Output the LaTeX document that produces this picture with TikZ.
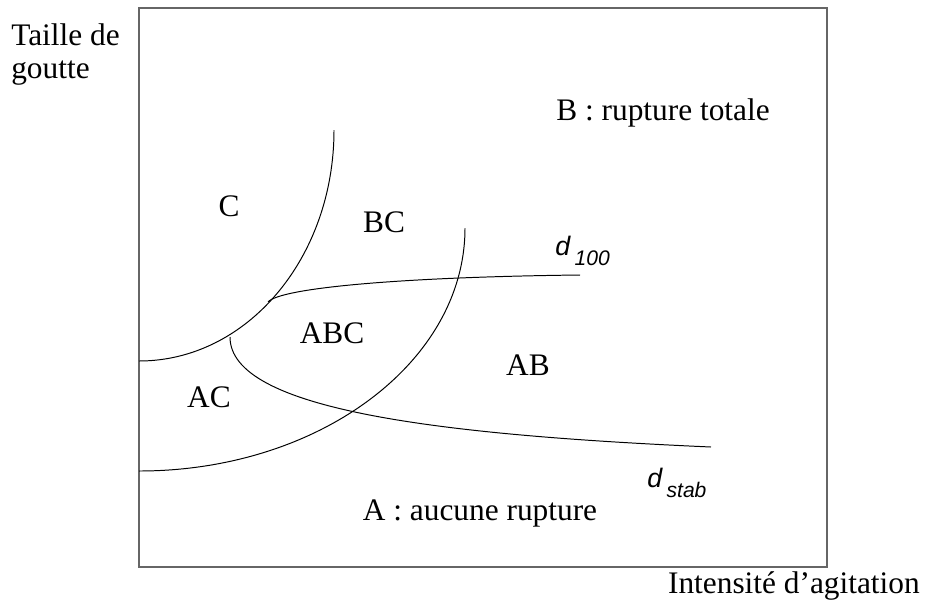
\documentclass[tikz,border=0pt]{standalone}
\usepackage{fontspec}
\usepackage{tikz}
\usepackage{xcolor}
\setmainfont{Liberation Serif}
\newfontfamily\dfont{Liberation Sans}

\begin{document}
\begin{tikzpicture}[x=0.025cm, y=-0.025cm,
  lbl/.style={font=\fontsize{22.3}{26}\selectfont, inner sep=0pt, anchor=base},
  dlab/.style={font=\dfont\itshape\fontsize{19}{20}\selectfont, inner sep=0pt, anchor=base west},
  curve/.style={black, line width=0.7pt}]

\newcommand{\dsub}[1]{\raisebox{-0.25cm}{\fontsize{15}{16}\selectfont #1}}

\useasboundingbox (0,0) rectangle (928,607);

% ===== Frame =====

\draw[black!60, line width=0.9pt] (139,8) rectangle (827,567);

% ===== Axis labels =====

\node[lbl, anchor=base west] (ylab) at (11,45) {Taille de};
\node[lbl, anchor=base west] (ylab2) at (11,78) {goutte};
\node[lbl, anchor=base east] (xlab) at (920,593) {Intensit\'e d'agitation};

% ===== Curves =====

\coordinate (c1s) at (139,361);
\coordinate (c1e) at (334,130);
\coordinate (c2s) at (139,471);
\coordinate (c2e) at (465,228);
\coordinate (hs) at (268,302);
\coordinate (he) at (580,275);
\coordinate (ss) at (230,337);
\coordinate (se) at (711,447);

\draw[curve] (c1s) .. controls (247,361) and (334,258) .. (c1e);
\draw[curve] (c2s) .. controls (319,471) and (465,362) .. (c2e);
\draw[curve] (hs) .. controls (280,288) and (400,277) .. (he);
\draw[curve] (ss) .. controls (230,410) and (440,435) .. (se);

% ===== Zones =====

\node[lbl] (zC) at (229,216) {C};
\node[lbl] (zBC) at (384,232) {BC};
\node[lbl] (zABC) at (332,343) {ABC};
\node[lbl] (zAC) at (209,407) {AC};
\node[lbl] (zAB) at (528,375) {AB};
\node[lbl] (zB) at (663,120) {B : rupture totale};
\node[lbl] (zA) at (480,520) {A : aucune rupture};

% ===== Diameters =====

\node[dlab] (d100) at (555,255) {d\,\dsub{100}};
\node[dlab] (dstab) at (647,487) {d\,\dsub{stab}};

\end{tikzpicture}
\end{document}
